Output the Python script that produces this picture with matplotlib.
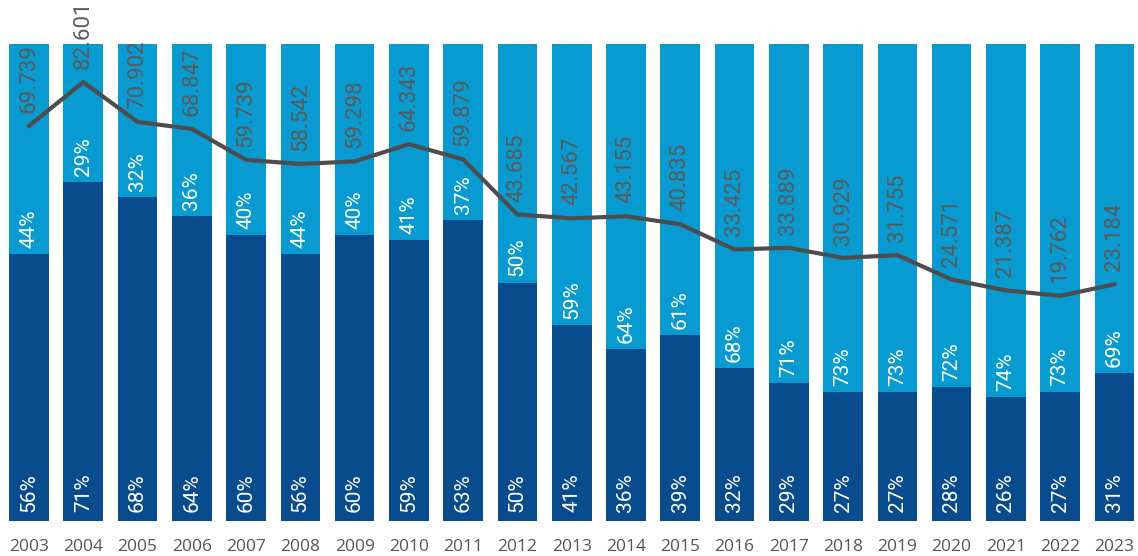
import numpy as np
import matplotlib.pyplot as plt

plt.rcParams['font.family'] = ['Roboto', 'DejaVu Sans']

years = [str(y) for y in range(2003, 2024)]
dark_pct = [56, 71, 68, 64, 60, 56, 60, 59, 63, 50, 41, 36, 39, 32, 29, 27, 27, 28, 26, 27, 31]
light_pct = [44, 29, 32, 36, 40, 44, 40, 41, 37, 50, 59, 64, 61, 68, 71, 73, 73, 72, 74, 73, 69]
line_vals = [69.739, 82.601, 70.902, 68.847, 59.739, 58.542, 59.298, 64.343, 59.879, 43.685,
             42.567, 43.155, 40.835, 33.425, 33.889, 30.929, 31.755, 24.571, 21.387, 19.762, 23.184]

dark = '#084c8d'
light = '#079bd2'
grey = '#555555'

fig = plt.figure(figsize=(11.38, 5.56), dpi=100)
ax = fig.add_axes([0, 35/556, 1, 477/556])
x = np.arange(len(years))

ax.bar(x, dark_pct, width=0.73, color=dark, zorder=1)
ax.bar(x, light_pct, width=0.73, bottom=dark_pct, color=light, zorder=1)

for i in range(len(years)):
    ax.annotate(f'{dark_pct[i]}%', (x[i], 0), xytext=(0, 9), textcoords='offset pixels',
                rotation=90, ha='center', va='bottom', color='white', fontsize=15)
    ax.annotate(f'{light_pct[i]}%', (x[i], dark_pct[i]), xytext=(0, 6), textcoords='offset pixels',
                rotation=90, ha='center', va='bottom', color='white', fontsize=15)

ax.set_xlim(-29/54.27, (1138-29)/54.27)
ax.set_ylim(0, 100)
ax.set_xticks(x)
ax.set_xticklabels(years, fontsize=12.5, color=grey, family='Open Sans')
ax.tick_params(axis='x', length=0, pad=13)
ax.set_yticks([])
for s in ax.spines.values():
    s.set_visible(False)

ax2 = ax.twinx()
ax2.plot(x, line_vals, color='#4d4d4d', lw=3, zorder=3, solid_joinstyle='round')
for i in range(len(years)):
    ax2.annotate(f'{line_vals[i]:.3f}', (x[i], line_vals[i]), xytext=(0, 13), textcoords='offset pixels',
                 rotation=90, ha='center', va='bottom', color='#5a5a5a', fontsize=16)
ax2.set_ylim(-46.4, 93.8)
ax2.set_yticks([])
for s in ax2.spines.values():
    s.set_visible(False)

fig.savefig('out.png', dpi=100)
